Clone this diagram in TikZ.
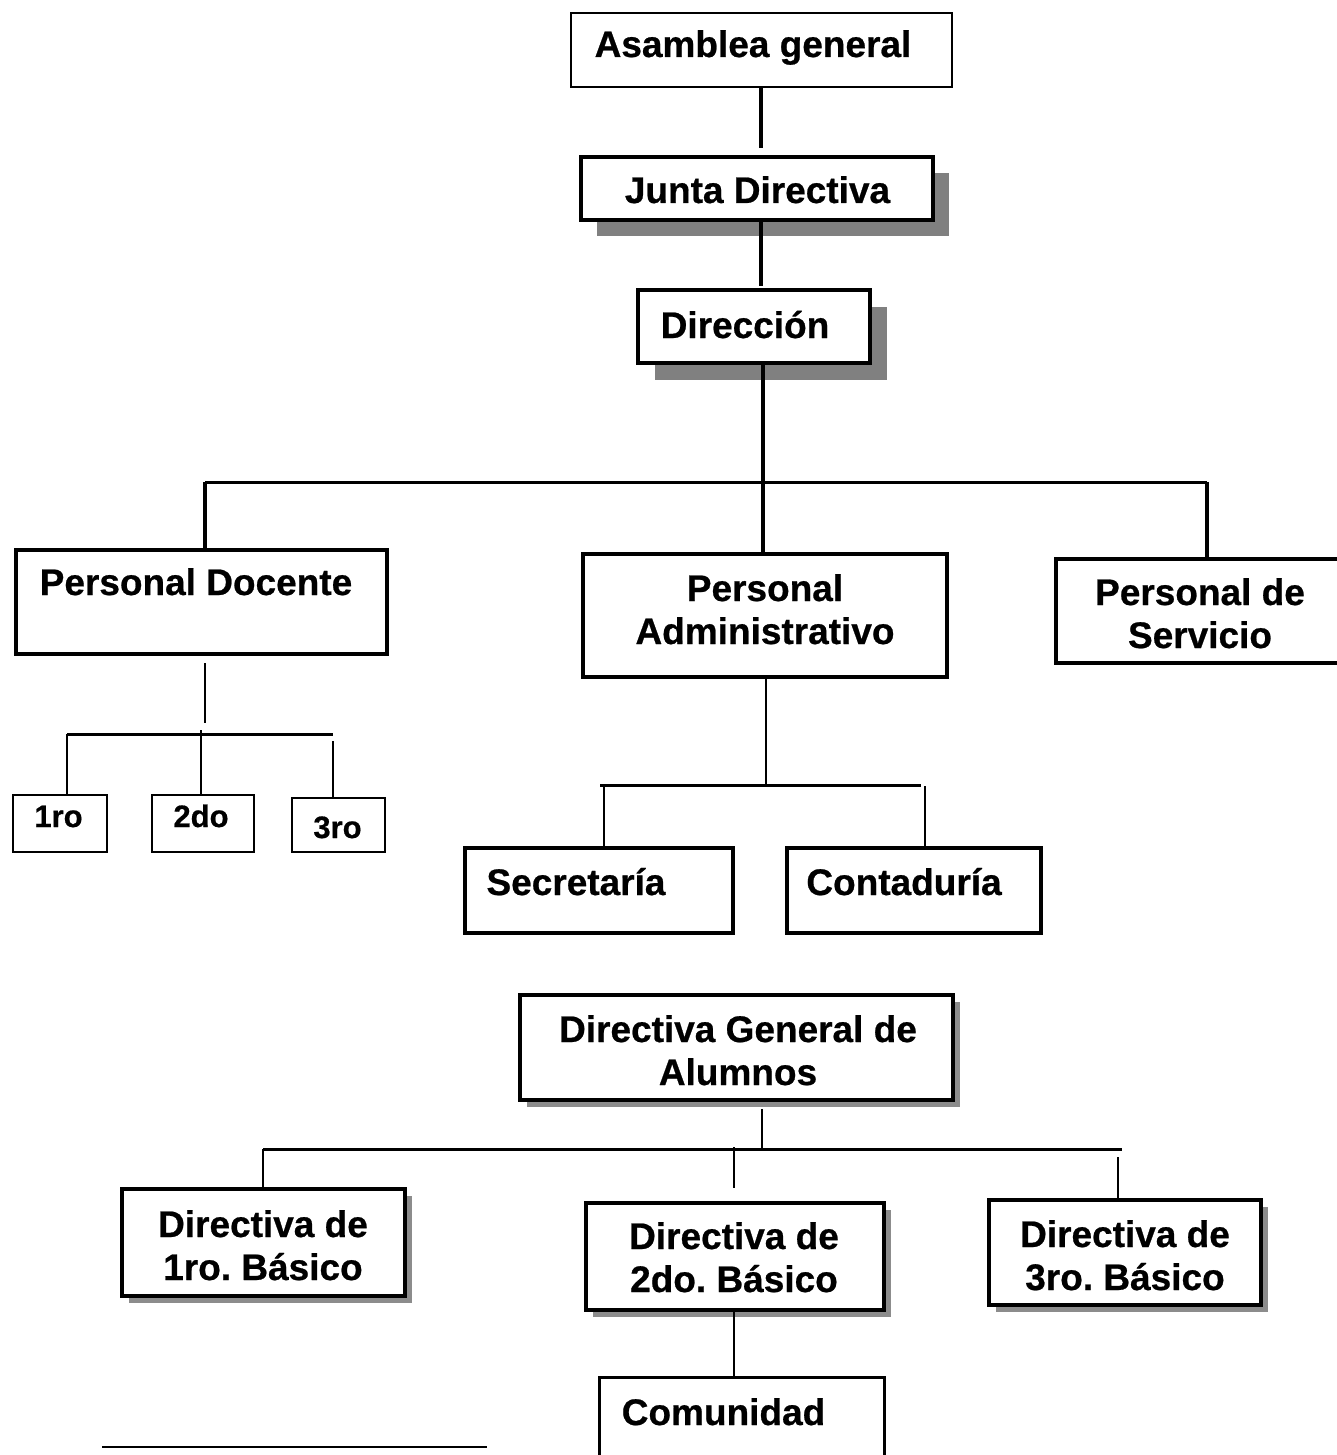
\documentclass[tikz,border=0pt]{standalone}
\usepackage{fontspec}
\setmainfont{Liberation Sans}[BoldFeatures={FakeBold=0.6}]
\usetikzlibrary{shadows}
\frenchspacing
\begin{document}
\begin{tikzpicture}[x=1pt,y=-1pt,
  box/.style={draw=black, fill=white, rectangle, inner sep=0pt},
  thinbox/.style={box, line width=2pt},
  thickbox/.style={box, line width=4pt},
  bigshadow/.style={drop shadow={shadow xshift=16pt, shadow yshift=-16pt, fill=black!50, opacity=1}},
  smallshadow/.style={drop shadow={shadow xshift=7pt, shadow yshift=-7pt, fill=black!45, opacity=1}},
  txt/.style={font=\bfseries\fontsize{37}{43}\selectfont, inner sep=0pt, align=center, anchor=base},
  smalltxt/.style={font=\bfseries\fontsize{31}{36}\selectfont, inner sep=0pt, anchor=base},
  conn/.style={line width=4pt},
  connm/.style={line width=3pt},
  conns/.style={line width=2pt}
]
\useasboundingbox[fill=white] (0,0) rectangle (1337,1455);

% ---------- boxes ----------
\node[thinbox, minimum width=381pt, minimum height=74pt] (asm) at (761.5,50) {};
\node[thickbox, bigshadow, minimum width=352pt, minimum height=63pt] (jun) at (757,188.5) {};
\node[thickbox, drop shadow={shadow xshift=17pt, shadow yshift=-17pt, fill=black!50, opacity=1}, minimum width=232pt, minimum height=73pt] (dir) at (754,326.5) {};
\node[thickbox, minimum width=371pt, minimum height=104pt] (doc) at (201.5,602) {};
\node[thickbox, minimum width=364pt, minimum height=123pt] (adm) at (765,615.5) {};
\node[thickbox, minimum width=294pt, minimum height=104pt] (srv) at (1203,611) {};
\node[thinbox, minimum width=94pt, minimum height=57pt] (b1) at (60,823.5) {};
\node[thinbox, minimum width=102pt, minimum height=57pt] (b2) at (203,823.5) {};
\node[thinbox, minimum width=93pt, minimum height=54pt] (b3) at (338.5,825) {};
\node[thickbox, minimum width=268pt, minimum height=85pt] (sec) at (599,890.5) {};
\node[thickbox, minimum width=254pt, minimum height=85pt] (con) at (914,890.5) {};
\node[thickbox, smallshadow, minimum width=433pt, minimum height=105pt] (dga) at (736.5,1047.5) {};
\node[thickbox, smallshadow, minimum width=283pt, minimum height=107pt] (d1) at (263.5,1242.5) {};
\node[thickbox, smallshadow, minimum width=298pt, minimum height=107pt] (d2) at (735,1256.5) {};
\node[thickbox, smallshadow, minimum width=272pt, minimum height=105pt] (d3) at (1125,1252.5) {};
\node[box, line width=3pt, minimum width=285pt, minimum height=93pt] (com) at (741.5,1423.5) {};

% ---------- texts (base = baseline of last line) ----------
\node[txt] (tasm) at (753,57) {Asamblea general};
\node[txt] (tjun) at (757.5,203) {Junta Directiva};
\node[txt] (tdir) at (745,338) {Dirección};
\node[txt] (tdoc) at (196,595) {Personal Docente};
\node[txt] (tadm) at (765,644) {Personal\\Administrativo};
\node[txt] (tsrv) at (1200,648) {Personal de\\Servicio};
\node[smalltxt] (tb1) at (58.5,827) {1ro};
\node[smalltxt] (tb2) at (201,827) {2do};
\node[smalltxt] (tb3) at (337.5,838) {3ro};
\node[txt] (tsec) at (576,895) {Secretaría};
\node[txt] (tcon) at (904,895) {Contaduría};
\node[txt] (tdga) at (738,1085) {Directiva General de\\Alumnos};
\node[txt] (td1) at (263,1280) {Directiva de\\1ro. Básico};
\node[txt] (td2) at (734,1292) {Directiva de\\2do. Básico};
\node[txt] (td3) at (1125,1290) {Directiva de\\3ro. Básico};
\node[txt] (tcom) at (723.5,1425) {Comunidad};

% ---------- connectors: top ----------
\coordinate (ca) at (761,148);
\draw[conn] (asm.south -| ca) -- (ca);
\coordinate (cj) at (761,286);
\draw[conn] (jun.south -| cj) -- (cj);
\coordinate (bl) at (205,482);
\coordinate (bm) at (763,482);
\coordinate (br) at (1207,482);
\draw[connm] (bl) -- (br);
\draw[conn] (bm |- dir.south) -- (bm |- adm.north);
\draw[conn] (bl) -- (bl |- doc.north);
\draw[conn] (br) -- (br |- srv.north);

% ---------- Personal Docente subtree ----------
\coordinate (dv1) at (205,663);
\coordinate (dv2) at (205,723);
\draw[conns] (dv1) -- (dv2);
\coordinate (dbl) at (67,734);
\coordinate (dbr) at (333,734);
\draw[connm] (dbl) -- (dbr);
\draw[conns] (dbl) -- (dbl |- b1.north);
\coordinate (d2t) at (201,730);
\draw[conns] (d2t) -- (d2t |- b2.north);
\coordinate (d3t) at (333,741);
\draw[conns] (d3t) -- (d3t |- b3.north);

% ---------- Personal Administrativo subtree ----------
\coordinate (am) at (766,785);
\draw[conns] (adm.south -| am) -- (am);
\coordinate (abl) at (600,785);
\coordinate (abr) at (921,785);
\draw[connm] (abl) -- (abr);
\coordinate (as1) at (604,785);
\draw[conns] (as1) -- (as1 |- sec.north);
\coordinate (as2) at (925,786);
\draw[conns] (as2) -- (as2 |- con.north);

% ---------- Directiva General subtree ----------
\coordinate (gm) at (762,1149);
\draw[conns] (gm |- dga.south) ++(0,7) -- (gm);
\coordinate (gbl) at (263,1149);
\coordinate (gbr) at (1122,1149);
\draw[connm] (gbl) -- (gbr);
\draw[conns] (gbl) -- (gbl |- d1.north);
\coordinate (g2) at (734,1147);
\coordinate (g2b) at (734,1188);
\draw[conns] (g2) -- (g2b);
\coordinate (g3) at (1118,1157);
\draw[conns] (g3) -- (g3 |- d3.north);
\draw[conns] (d2.south -| g2) -- (com.north -| g2);

% ---------- footnote rule ----------
\coordinate (fl) at (102,1447);
\coordinate (fr) at (487,1447);
\draw[line width=1.5pt] (fl) -- (fr);
\end{tikzpicture}
\end{document}
